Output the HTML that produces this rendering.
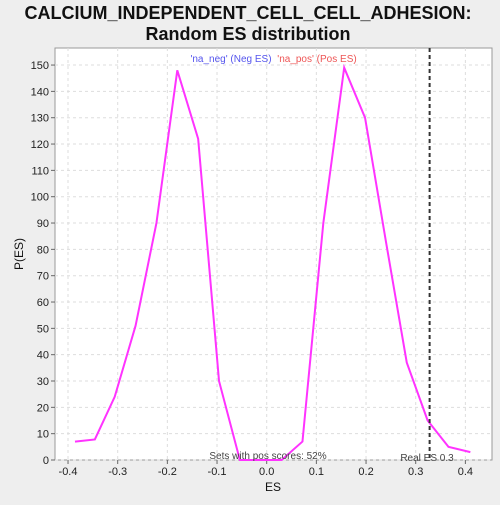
<!DOCTYPE html>
<html><head><meta charset="utf-8"><style>
body{margin:0;background:#eeeeee;font-family:"Liberation Sans",sans-serif;}
svg text{font-family:"Liberation Sans",sans-serif;}
</style></head><body>
<svg width="500" height="500">
<rect width="500" height="500" fill="#eeeeee"/>
<text x="248" y="19" text-anchor="middle" font-size="18" font-weight="bold" fill="#111">CALCIUM_INDEPENDENT_CELL_CELL_ADHESION:</text>
<text x="248" y="40" text-anchor="middle" font-size="18" font-weight="bold" fill="#111">Random ES distribution</text>
<rect x="55" y="48" width="437" height="412" fill="#fff" stroke="#999"/>
<g id="grid"></g><g id="axes"></g><g id="series"></g>
<text x="231" y="62" text-anchor="middle" font-size="10" fill="#5555ee">'na_neg' (Neg ES)</text>
<text x="317" y="62" text-anchor="middle" font-size="10" fill="#ee5555">'na_pos' (Pos ES)</text>
<text x="268" y="459" text-anchor="middle" font-size="10" fill="#444">Sets with pos scores: 52%</text>
<text x="427" y="461" text-anchor="middle" font-size="10" fill="#444">Real ES 0.3</text>
<text x="273" y="491" text-anchor="middle" font-size="12" fill="#111">ES</text>
<text x="23" y="254" text-anchor="middle" font-size="12" fill="#111" transform="rotate(-90 23 254)">P(ES)</text>
</svg>
<script>
const esValues=[-0.386,-0.346,-0.306,-0.264,-0.222,-0.18,-0.138,-0.096,-0.054,-0.012,0.03,0.072,0.114,0.156,0.198,0.24,0.282,0.324,0.366,0.41];
const probValues=[7,7.8,24,51,90,148,122,30,0,0,0,7,90,149,130,83,37,15,5,3];
const xTicks=[-0.4,-0.3,-0.2,-0.1,0.0,0.1,0.2,0.3,0.4];
const yTicks=[0,10,20,30,40,50,60,70,80,90,100,110,120,130,140,150];
const realES=0.328;
const ns="http://www.w3.org/2000/svg";
const X=v=>266.7+v*496.7, Y=v=>460-v*2.633;
function mk(t,a,p){const e=document.createElementNS(ns,t);for(const k in a)e.setAttribute(k,a[k]);document.getElementById(p).appendChild(e);return e;}
xTicks.forEach(t=>{
 const g=mk('line',{x1:X(t),x2:X(t),y1:48,y2:460,stroke:'#ddd','stroke-dasharray':'3,3'},'grid');
 
 
 mk('line',{x1:X(t),x2:X(t),y1:460,y2:464,stroke:'#666'},'axes');
 const l=mk('text',{x:X(t),y:475,'text-anchor':'middle','font-size':11,fill:'#222'},'axes');
 l.textContent=t.toFixed(1);
 
 
});
yTicks.forEach(t=>{
 const g=mk('line',{x1:55,x2:492,y1:Y(t),y2:Y(t),stroke:'#ddd','stroke-dasharray':'3,3'},'grid');
 
 
 mk('line',{x1:51,x2:55,y1:Y(t),y2:Y(t),stroke:'#666'},'axes');
 const l=mk('text',{x:49,y:Y(t)+4,'text-anchor':'end','font-size':11,fill:'#222'},'axes');
 l.textContent=t;
 
 
});
const p=mk('polyline',{points:esValues.map((v,i)=>X(v)+','+Y(probValues[i])).join(' '),fill:'none',stroke:'#ff33ff','stroke-width':2},'series');


const r=mk('line',{x1:X(realES),x2:X(realES),y1:48,y2:460,stroke:'#333','stroke-width':2,'stroke-dasharray':'4,3'},'series');


</script>
</body></html>
